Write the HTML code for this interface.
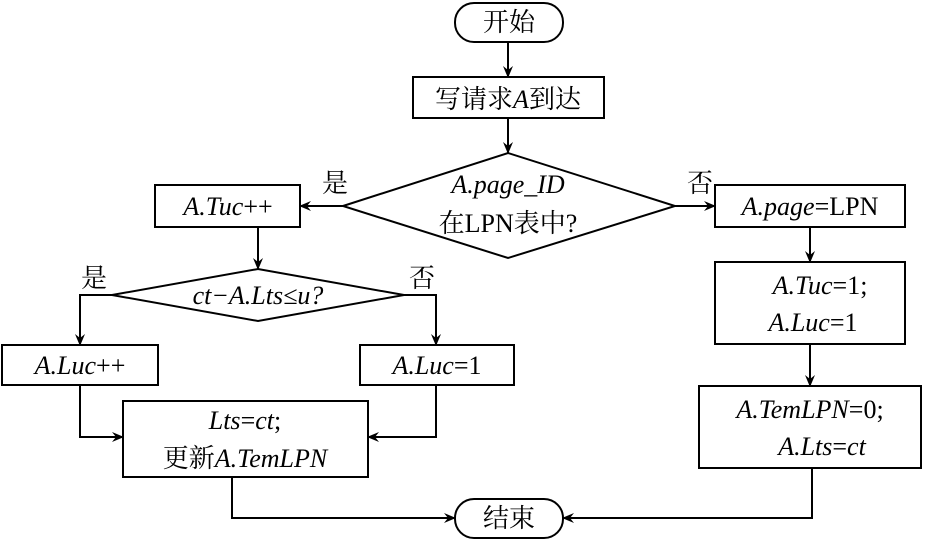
<!DOCTYPE html>
<html><head><meta charset="utf-8"><style>
html,body{margin:0;padding:0;background:#fff;}
svg{display:block;}
text{font-family:"Liberation Serif","Noto Serif CJK SC",serif;font-size:26px;fill:#000;}
.i{font-style:italic;}
</style></head><body>
<svg width="934" height="541" viewBox="0 0 934 541" xmlns="http://www.w3.org/2000/svg">
<defs><marker id="a" markerWidth="12" markerHeight="10" refX="11" refY="5" orient="auto" markerUnits="userSpaceOnUse"><path d="M0,0 L12,5 L0,10 L4,5 Z" fill="#000"/></marker></defs>
<g fill="none" stroke="#000" stroke-width="2">
<rect x="455" y="3" width="108" height="39" rx="19"/>
<rect x="413" y="77" width="191" height="41"/>
<polygon points="343,206 508,153 675,206 508,258"/>
<rect x="155" y="185" width="145" height="42"/>
<rect x="715" y="185" width="190" height="42"/>
<polygon points="112,295 258,269 404,295 258,321"/>
<rect x="2" y="345" width="156" height="40"/>
<rect x="360" y="345" width="154" height="40"/>
<rect x="123" y="401" width="245" height="76"/>
<rect x="715" y="262" width="190" height="82"/>
<rect x="699" y="386" width="222" height="82"/>
<rect x="455" y="499" width="108" height="39" rx="19"/>
<g marker-end="url(#a)">
<path d="M508,42 V77"/>
<path d="M508,118 V153"/>
<path d="M343,206 H300"/>
<path d="M675,206 H715"/>
<path d="M258,227 V269"/>
<path d="M112,295 H80 V345"/>
<path d="M404,295 H436 V345"/>
<path d="M80,385 V437 H123"/>
<path d="M436,385 V437 H368"/>
<path d="M810,227 V262"/>
<path d="M810,344 V386"/>
<path d="M232,477 V518 H455"/>
<path d="M812,468 V518 H563"/>
</g></g>
<text x="509" y="31" text-anchor="middle">开始</text>
<text x="508" y="108" text-anchor="middle">写请求<tspan class="i">A</tspan>到达</text>
<text x="508" y="193" text-anchor="middle" class="i">A.page_ID</text>
<text x="508" y="232" text-anchor="middle">在LPN表中?</text>
<text x="335" y="192" text-anchor="middle">是</text>
<text x="700" y="192" text-anchor="middle">否</text>
<text x="228" y="215" text-anchor="middle" class="i">A.Tuc<tspan font-style="normal">++</tspan></text>
<text x="810" y="215" text-anchor="middle"><tspan class="i">A.page</tspan>=LPN</text>
<text x="258" y="304" text-anchor="middle" class="i">ct−A.Lts≤u?</text>
<text x="94" y="287" text-anchor="middle">是</text>
<text x="422" y="287" text-anchor="middle">否</text>
<text x="80" y="374" text-anchor="middle" class="i">A.Luc<tspan font-style="normal">++</tspan></text>
<text x="437" y="374" text-anchor="middle"><tspan class="i">A.Luc</tspan>=1</text>
<text x="245" y="429" text-anchor="middle"><tspan class="i">Lts</tspan>=<tspan class="i">ct</tspan>;</text>
<text x="245" y="467" text-anchor="middle">更新<tspan class="i">A.TemLPN</tspan></text>
<text x="820" y="294" text-anchor="middle"><tspan class="i">A.Tuc</tspan>=1;</text>
<text x="813" y="331" text-anchor="middle"><tspan class="i">A.Luc</tspan>=1</text>
<text x="810" y="418" text-anchor="middle"><tspan class="i">A.TemLPN</tspan>=0;</text>
<text x="822" y="455" text-anchor="middle"><tspan class="i">A.Lts</tspan>=<tspan class="i">ct</tspan></text>
<text x="509" y="527" text-anchor="middle">结束</text>
</svg>
</body></html>
